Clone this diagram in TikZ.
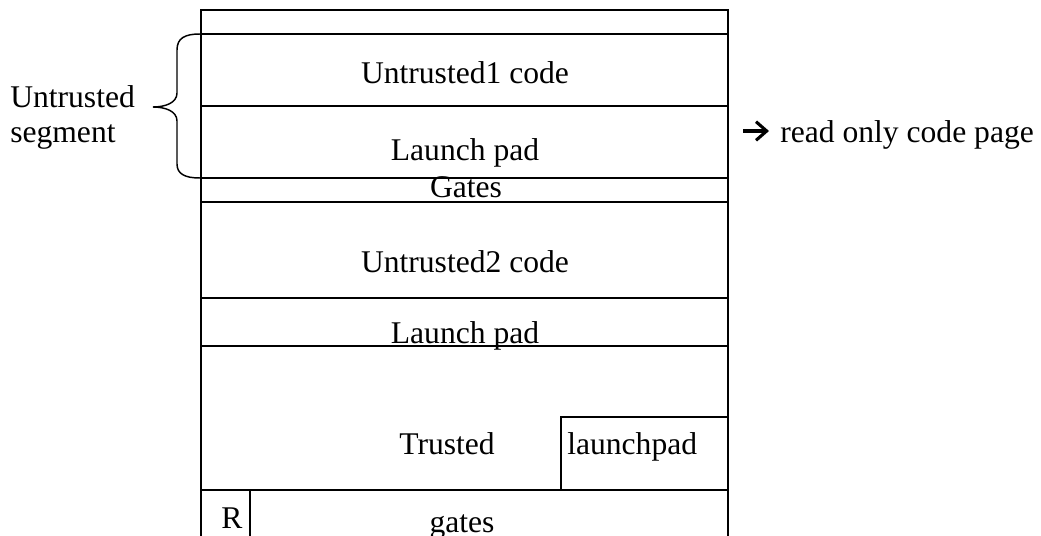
\documentclass[tikz,border=0pt]{standalone}
\usepackage{fontspec}
\setmainfont{Liberation Serif}
\usetikzlibrary{arrows.meta}
\begin{document}
\begin{tikzpicture}[x=0.75pt,y=-0.75pt,
  lbl/.style={inner sep=0pt,anchor=base,font=\fontsize{23.7}{28}\selectfont},
  lblw/.style={lbl,anchor=base west},
  rule/.style={line width=1.5pt},
  bracestyle/.style={line width=1.1pt},
  pointer/.style={line width=2.3pt,-{Straight Barb[length=8pt,width=14pt]}}]
\clip (0,0) rectangle (1041,535);
\useasboundingbox (0,0) rectangle (1041,535);
% outer frame corners
\coordinate (tl) at (201,10);
\coordinate (tr) at (728,10);
\coordinate (bl) at (201,560);
\coordinate (br) at (728,560);
\draw[rule] (bl) -- (tl) -- (tr) -- (br);
% horizontal separators
\foreach \y/\n in {34/a,106/b,178/c,202/d,298/e,346/f,490/g}{
  \coordinate (L\n) at (201,\y);
  \coordinate (R\n) at (728,\y);
  \draw[rule] (L\n) -- (R\n);
}
% launchpad box
\coordinate (lpA) at (561,490);
\coordinate (lpB) at (561,417);
\coordinate (lpC) at (728,417);
\draw[rule] (lpA) -- (lpB) -- (lpC);
% R divider
\coordinate (rdA) at (250,490);
\coordinate (rdB) at (250,560);
\draw[rule] (rdA) -- (rdB);
% texts
\node[lbl] (u1) at (465,84) {Untrusted1 code};
\node[lbl] (lp1) at (465,160) {Launch pad};
\node[lbl] (gt1) at (466,197) {Gates};
\node[lbl] (u2) at (465,272) {Untrusted2 code};
\node[lbl] (lp2) at (465,343) {Launch pad};
\node[lbl] (tr1) at (447,454) {Trusted};
\node[lblw] (lp3) at (567,454) {launchpad};
\node[lbl] (rr) at (232,528) {R};
\node[lbl] (gt2) at (462,532) {gates};
\node[lblw] (us) at (10,107) {Untrusted};
\node[lblw] (sg) at (10,142) {segment};
\node[lblw] (ro) at (780,142) {read only code page};
% arrow before the note
\coordinate (arrS) at (743,131);
\coordinate (arrE) at (769,131);
\draw[pointer] (arrS) -- (arrE);
% brace
\coordinate (bt) at (200,34);
\coordinate (bb) at (200,178);
\coordinate (btip) at (153,107);
\draw[bracestyle] (bt) .. controls (185,34) and (177,38) .. (177,50) -- (177,93)
  .. controls (177,103) and (165,107) .. (btip)
  .. controls (165,107) and (177,111) .. (177,121) -- (177,164)
  .. controls (177,174) and (185,178) .. (bb);
\end{tikzpicture}
\end{document}
